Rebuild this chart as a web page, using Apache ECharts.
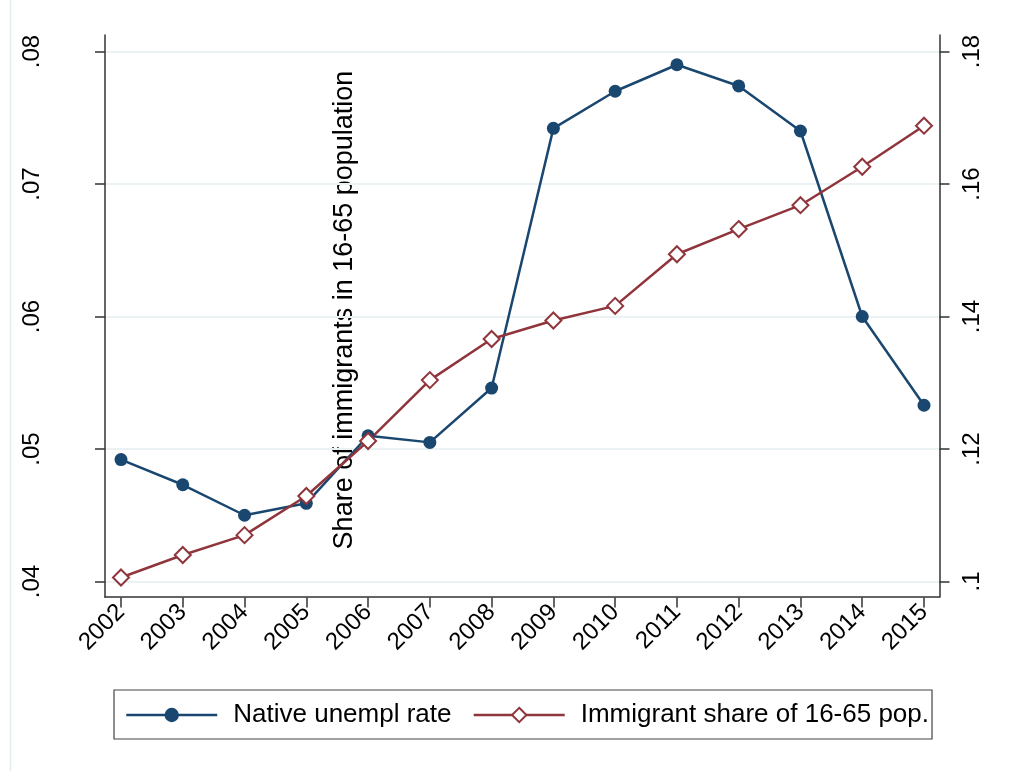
<!DOCTYPE html>
<html>
<head>
<meta charset="utf-8">
<script src="https://cdn.jsdelivr.net/npm/echarts@6/dist/echarts.min.js"></script>
<style>
html,body{margin:0;padding:0;background:#fff;}
#chart{width:1025px;height:771px;}
</style>
</head>
<body>
<div id="chart"></div>
<script>
const years = ['2002','2003','2004','2005','2006','2007','2008','2009','2010','2011','2012','2013','2014','2015'];
const nativeUnempl = [0.0492,0.0473,0.0450,0.0459,0.0510,0.0505,0.0546,0.0742,0.0770,0.0790,0.0774,0.0740,0.0600,0.0533];
const immigrantShare = [0.1006,0.1040,0.1070,0.1129,0.1212,0.1304,0.1366,0.1394,0.1416,0.1494,0.1532,0.1568,0.1626,0.1688];
const seriesNames = ['Native unempl rate','Immigrant share of 16-65 pop.'];
const rightTitle = 'Share of immigrants in 16-65 population';

const FONT = 'Liberation Sans, Arial, sans-serif';
const fmt = v => String(+v.toFixed(2)).replace(/^0/, '');
const axisCol = '#333';
const chart = echarts.init(document.getElementById('chart'), null, {renderer:'canvas'});

const option = {
  backgroundColor: '#fff',
  animation: false,
  textStyle: {fontFamily: FONT},
  grid: [
    {left: 121, right: 101, top: 51.5, bottom: 189.5},
    {left: 105, right: 85.5, top: 51.5, bottom: 189.5},
    {left: 105, right: 85.5, top: 35, bottom: 174}
  ],
  xAxis: [
    {gridIndex: 0, type: 'category', data: years, boundaryGap: false, offset: 16,
     axisLine: {show: false},
     axisTick: {show: true, alignWithLabel: true, length: 10, lineStyle: {color: axisCol, width: 1.5}},
     axisLabel: {rotate: 45, margin: 11, fontSize: 24, color: '#000', fontFamily: FONT, interval: 0},
     splitLine: {show: false}},
    {gridIndex: 1, type: 'value', min: 0, max: 1, show: false},
    {gridIndex: 2, type: 'value', min: 0, max: 1,
     axisLine: {show: true, onZero: false, lineStyle: {color: axisCol, width: 1.5}},
     axisTick: {show: false}, axisLabel: {show: false}, splitLine: {show: false}}
  ],
  yAxis: [
    {gridIndex: 0, type: 'value', position: 'left', min: 0.04, max: 0.08, interval: 0.01, offset: 16,
     axisLine: {show: false},
     axisTick: {show: true, length: 10, lineStyle: {color: axisCol, width: 1.5}},
     axisLabel: {rotate: 90, margin: 61, fontSize: 24, color: '#000', fontFamily: FONT, formatter: fmt},
     splitLine: {show: false}},
    {gridIndex: 0, type: 'value', position: 'right', min: 0.1, max: 0.18, interval: 0.02, offset: 15.5,
     axisLine: {show: false},
     axisTick: {show: true, length: 10, lineStyle: {color: axisCol, width: 1.5}},
     axisLabel: {rotate: 90, margin: 21, fontSize: 24, color: '#000', fontFamily: FONT, formatter: fmt},
     splitLine: {show: false}},
    {gridIndex: 1, type: 'value', min: 0.04, max: 0.08, interval: 0.01,
     axisLine: {show: false}, axisTick: {show: false}, axisLabel: {show: false},
     splitLine: {show: true, lineStyle: {color: '#eaf2f3', width: 2}}},
    {gridIndex: 2, type: 'value', position: 'left', min: 0, max: 1,
     axisLine: {show: true, onZero: false, lineStyle: {color: axisCol, width: 1.5}},
     axisTick: {show: false}, axisLabel: {show: false}, splitLine: {show: false}},
    {gridIndex: 2, type: 'value', position: 'right', min: 0, max: 1,
     axisLine: {show: true, onZero: false, lineStyle: {color: axisCol, width: 1.5}},
     axisTick: {show: false}, axisLabel: {show: false}, splitLine: {show: false}}
  ],
  legend: {
    left: 114, top: 690,
    data: seriesNames,
    itemWidth: 91, itemHeight: 18, itemGap: 21,
    padding: [12, 3, 11, 11],
    borderColor: '#444', borderWidth: 1.2,
    lineStyle: {width: 2.5},
    textStyle: {fontSize: 26, color: '#000', fontFamily: FONT, padding: [0, 0, 0, 11]}
  },
  graphic: [
    {type: 'rect', left: 8, top: -20, shape: {width: 1200, height: 1000}, silent: true, z: -10,
     style: {fill: 'none', stroke: '#e3eef0', lineWidth: 1.5}},
    {type: 'text', x: 345, y: 310, rotation: Math.PI / 2, silent: true,
     style: {text: rightTitle, fontSize: 27, fontFamily: FONT, fill: '#000', textAlign: 'center', textVerticalAlign: 'middle'}}
  ],
  series: [
    {name: seriesNames[0], type: 'line', xAxisIndex: 0, yAxisIndex: 0, data: nativeUnempl,
     symbol: 'circle', symbolSize: 13,
     lineStyle: {color: '#1a476f', width: 2.5},
     itemStyle: {color: '#1a476f'}},
    {name: seriesNames[1], type: 'line', xAxisIndex: 0, yAxisIndex: 1, data: immigrantShare,
     symbol: 'diamond', symbolSize: 16, showAllSymbol: true,
     lineStyle: {color: '#90353b', width: 2.5},
     itemStyle: {color: '#fff', borderColor: '#90353b', borderWidth: 2}}
  ]
};
chart.setOption(option);
</script>
</body>
</html>
